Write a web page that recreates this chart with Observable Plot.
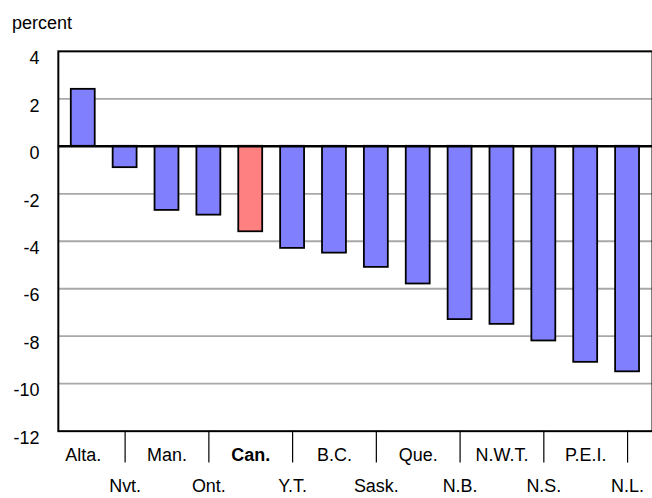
<!DOCTYPE html>
<html><head><meta charset="utf-8">
<script src="https://cdn.jsdelivr.net/npm/d3@7"></script>
<script src="https://cdn.jsdelivr.net/npm/@observablehq/plot@0.6"></script>
<style>
html,body{margin:0;padding:0;background:#fff;overflow:hidden;width:652px;height:498px}
#wrap{position:relative;width:652px;height:498px;overflow:hidden}
#wrap svg{position:absolute;left:0;top:0}
#unit{position:absolute;left:12px;top:14px;font:18px/18px "Liberation Sans",Arial,sans-serif;color:#000;z-index:2}
</style></head><body><div id="wrap"><div id="unit">percent</div></div>
<script>
const provinces = ["Alta.","Nvt.","Man.","Ont.","Can.","Y.T.","B.C.","Sask.","Que.","N.B.","N.W.T.","N.S.","P.E.I.","N.L."];
const changes = [2.4, -0.9, -2.7, -2.9, -3.6, -4.3, -4.5, -5.1, -5.8, -7.3, -7.5, -8.2, -9.1, -9.5];
const yTicks = [4, 2, 0, -2, -4, -6, -8, -10, -12];
const gridValues = [2, -2, -4, -6, -8, -10];
const highlight = "Can.";

const data = provinces.map((p, i) => ({province: p, change: changes[i]}));
const upperRow = provinces.filter((p, i) => i % 2 === 0);
const lowerRow = provinces.filter((p, i) => i % 2 === 1);
const font = '"Liberation Sans", Arial, sans-serif';

const chart = Plot.plot({
  width: 654, height: 498,
  marginLeft: 58, marginRight: 0, marginTop: 51, marginBottom: 66,
  style: {fontFamily: font, fontSize: "18px", background: "transparent", overflow: "visible", color: "#000"},
  x: {type: "band", domain: provinces, paddingInner: 0.42, paddingOuter: 0.21, axis: null, label: null},
  y: {domain: [-12, 4], axis: null, label: null},
  marks: [
    Plot.ruleY(gridValues, {stroke: "#a8a8a8", strokeWidth: 1.8}),
    Plot.barY(data, {filter: d => d.province !== highlight, x: "province", y: "change", fill: "#8080ff", stroke: "#000", strokeWidth: 1.8}),
    Plot.barY(data, {filter: d => d.province === highlight, x: "province", y: "change", fill: "#ff8080", stroke: "#000", strokeWidth: 1.8}),
    Plot.ruleY([0], {stroke: "#000", strokeWidth: 2.5}),
    Plot.frame({stroke: "#000", strokeWidth: 2}),
    Plot.axisY(yTicks, {tickSize: 0, tickPadding: 19, fontSize: 18, dy: 7, label: null, tickFormat: d => String(d)}),
    Plot.axisX(lowerRow, {tickSize: 32, tickPadding: 16, fontSize: 18, strokeWidth: 1.2, label: null}),
    Plot.axisX(upperRow.filter(p => p !== highlight), {tickSize: 0, tickPadding: 17, fontSize: 18, label: null}),
    Plot.axisX([highlight], {tickSize: 0, tickPadding: 17, fontSize: 18, fontWeight: "bold", label: null})
  ]
});
document.getElementById("wrap").appendChild(chart);
</script>
</body></html>
